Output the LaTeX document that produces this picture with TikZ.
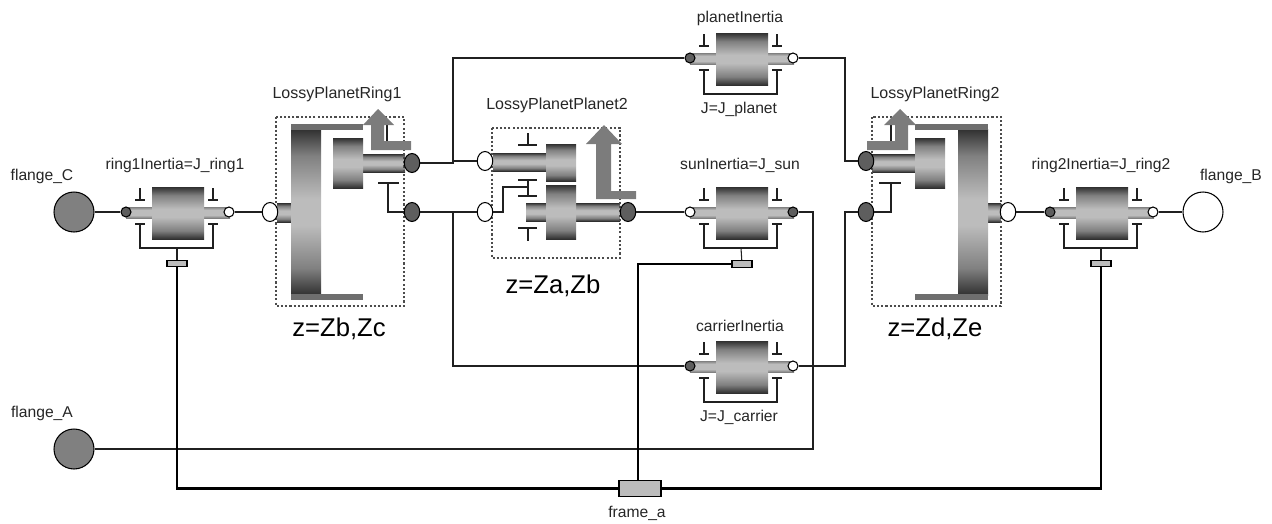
\documentclass[tikz,border=0pt]{standalone}
\usepackage{fontspec}
\setmainfont{Liberation Sans}
\usetikzlibrary{shapes.geometric}
\definecolor{wire}{HTML}{202020}
\definecolor{shadedark}{HTML}{303030}
\definecolor{shademid}{HTML}{808080}
\definecolor{shadelight}{HTML}{BCBCBC}
\definecolor{platecol}{HTML}{6E6E6E}
\definecolor{arrowcol}{HTML}{7C7C7C}
\definecolor{portdark}{HTML}{5E5E5E}
\definecolor{flangecol}{HTML}{808080}
\pgfdeclareverticalshading{gearfade}{100bp}{color(0bp)=(shadedark); color(25bp)=(shadedark); color(33bp)=(shademid); color(46bp)=(shadelight); color(54bp)=(shadelight); color(67bp)=(shademid); color(75bp)=(shadedark); color(100bp)=(shadedark)}
\pgfdeclareverticalshading{shaftfade}{100bp}{color(0bp)=(shadedark); color(25bp)=(shadedark); color(33bp)=(shademid); color(45bp)=(shadelight); color(55bp)=(shadelight); color(67bp)=(shademid); color(75bp)=(shadedark); color(100bp)=(shadedark)}
\pgfdeclareverticalshading{thinfade}{100bp}{color(0bp)=(shademid); color(25bp)=(shademid); color(38bp)=(shadelight); color(62bp)=(shadelight); color(75bp)=(shademid); color(100bp)=(shademid)}
\tikzset{
    conn/.style={draw=wire,line width=0.6pt},
    frameconn/.style={draw=black,line width=1.5pt},
    gear/.style={shade,shading=gearfade},
    shaft/.style={shade,shading=shaftfade},
    thinshaft/.style={shade,shading=thinfade},
    port/.style={circle,draw=black,line width=0.6pt,minimum size=0.2cm,inner sep=0pt},
    bigport/.style={ellipse,draw=black,line width=0.6pt,minimum width=0.31cm,minimum height=0.38cm,inner sep=0pt},
    flange/.style={circle,draw=black,line width=0.6pt,minimum size=0.8cm,inner sep=0pt},
    support/.style={rectangle,draw=black,line width=0.7pt,fill=shadelight,minimum width=0.4cm,minimum height=0.13cm,inner sep=0pt},
    lbl/.style={font=\fontsize{8.9}{10}\selectfont,inner sep=0pt,text=black!85},
    biglbl/.style={font=\fontsize{9.1}{10}\selectfont,inner sep=0pt,text=black!85},
    zlbl/.style={font=\fontsize{14.6}{16}\selectfont,inner sep=0pt},
    gearbox/.style={draw=black!70,line width=1.2pt,dash pattern=on 1.2pt off 1.2pt},
    plate/.style={fill=platecol},
    power/.style={fill=arrowcol}
}
\begin{document}
\begin{tikzpicture}[x=0.02cm,y=-0.02cm,line join=miter]
    \useasboundingbox (0,0) rectangle (1272,524);
    % inertias
    \foreach \name/\cx/\cy/\lcol/\rcol in {ringOne/178/213/portdark/white,planet/742/59/portdark/white,sun/742/213/white/portdark,carrier/742/367/portdark/white,ringTwo/1102/213/portdark/white}{
        \begin{scope}[shift={(\cx,\cy)}]
            \path[thinshaft] (-52,-6) rectangle (52,5);
            \path[gear] (-26,-26) rectangle (26,26);
            \draw[conn] (-38,-25) -- (-38,-13) (-43,-13) -- (-33,-13);
            \draw[conn] (35,-25) -- (35,-13) (30,-13) -- (40,-13);
            \draw[conn] (-43,11) -- (-33,11) (30,11) -- (40,11);
            \draw[conn] (-38,11) -- (-38,35) -- (35,35) -- (35,11);
            \node[port,fill=\lcol] (\name L) at (-52,-1) {};
            \node[port,fill=\rcol] (\name R) at (51,-1) {};
            \coordinate (\name Rail) at (-1,35);
        \end{scope}
    }
    % supports
    \node[support] (ringOneSup) at (177,263.5) {};
    \node[support] (sunSup) at (742,264) {};
    \node[support] (ringTwoSup) at (1101,263.5) {};
    \draw[conn] (ringOneRail) -- (ringOneSup);
    \draw[conn] (sunRail) -- (sunSup);
    \draw[conn] (ringTwoRail) -- (ringTwoSup);
    % LossyPlanetRing1
    \path[shaft] (277,203) rectangle (291,222);
    \path[shaft] (363,154) rectangle (405,172);
    \path[gear] (333,138) rectangle (363,188);
    \path[gear] (291,129) rectangle (321,295);
    \fill[plate] (291,124) rectangle (363,130);
    \fill[plate] (291,294) rectangle (363,300);
    \draw[gearbox] (276,117) rectangle (404,306);
    \draw[conn] (387,125) -- (387,141);
    \fill[power] (378,109) -- (394,125) -- (384,125) -- (384,141) -- (411,141) -- (411,150) -- (371,150) -- (371,125) -- (363,125) -- cycle;
    \draw[conn] (378,183) -- (399,183);
    \node[bigport,fill=white] (ringOneIn) at (270,212) {};
    \node[bigport,fill=portdark] (ringOneUp) at (412,163) {};
    \node[bigport,fill=portdark] (ringOneLow) at (412,212) {};
    \draw[conn] (388,183) |- (ringOneLow);
    % LossyPlanetPlanet2
    \path[shaft] (493,153) rectangle (546,171);
    \path[shaft] (526,203) rectangle (620,221);
    \path[gear] (546,144) rectangle (576,181);
    \path[gear] (546,185) rectangle (576,239);
    \draw[gearbox] (492,128) rectangle (620,258);
    \fill[power] (604,125) -- (622,144) -- (611,144) -- (611,191) -- (636,191) -- (636,199) -- (596,199) -- (596,144) -- (586,144) -- cycle;
    \draw[conn] (528,133) -- (528,145) (518,145) -- (537,145);
    \draw[conn] (518,180) -- (537,180) (528,180) -- (528,196) (518,196) -- (537,196);
    \draw[conn] (518,228) -- (537,228) (528,228) -- (528,241);
    \node[bigport,fill=white] (planetTwoUp) at (485,161) {};
    \node[bigport,fill=white] (planetTwoLow) at (485,212) {};
    \node[bigport,fill=portdark] (planetTwoOut) at (628,212) {};
    \coordinate (planetTwoBrg) at (528,187);
    \coordinate (planetTwoBend) at (503,212);
    \draw[conn] (planetTwoLow) -- (planetTwoBend) |- (planetTwoBrg);
    % LossyPlanetRing2
    \path[shaft] (988,203) rectangle (1001,222);
    \path[shaft] (872,154) rectangle (915,172);
    \path[gear] (915,138) rectangle (945,188);
    \path[gear] (958,129) rectangle (988,295);
    \fill[plate] (915,124) rectangle (988,130);
    \fill[plate] (915,294) rectangle (988,300);
    \draw[gearbox] (872,117) rectangle (1001,306);
    \draw[conn] (891,125) -- (891,141);
    \fill[power] (900,109) -- (916,125) -- (908,125) -- (908,150) -- (867,150) -- (867,141) -- (895,141) -- (895,125) -- (884,125) -- cycle;
    \draw[conn] (879,183) -- (901,183);
    \node[bigport,fill=portdark] (ringTwoUp) at (866,161) {};
    \node[bigport,fill=portdark] (ringTwoLow) at (866,212) {};
    \node[bigport,fill=white] (ringTwoOut) at (1008,212) {};
    \draw[conn] (891,183) |- (ringTwoLow);
    % flanges and frame
    \node[flange,fill=flangecol] (flangeC) at (74,212) {};
    \node[flange,fill=white] (flangeB) at (1203,212) {};
    \node[flange,fill=flangecol] (flangeA) at (74,449) {};
    \node[rectangle,draw=black,line width=0.8pt,fill=shadelight,minimum width=0.84cm,minimum height=0.31cm,inner sep=0pt] (frameA) at (640,488.5) {};
    % connections
    \coordinate (sideL) at (453,212);
    \coordinate (upL) at (453,161);
    \coordinate (sideR) at (845,212);
    \coordinate (upR) at (845,161);
    \coordinate (sunCol) at (813,449);
    \coordinate (frameCol) at (638,264);
    \coordinate (frameTop) at (638,481);
    \draw[conn] (flangeC) -- (ringOneL);
    \draw[conn] (ringOneR) -- (ringOneIn);
    \draw[conn] (ringOneUp) -- (upL |- ringOneUp) -- (upL);
    \draw[conn] (upL) -- (planetTwoUp);
    \draw[conn] (upL) |- (planetL);
    \draw[conn] (ringOneLow) -- (planetTwoLow);
    \draw[conn] (sideL) |- (carrierL);
    \draw[conn] (planetTwoOut) -- (sunL);
    \draw[conn] (planetR) -| (upR) -- (ringTwoUp);
    \draw[conn] (carrierR) -| (sideR) -- (ringTwoLow);
    \draw[conn] (sunR) -| (sunCol) -- (flangeA);
    \draw[conn] (ringTwoOut) -- (ringTwoL);
    \draw[conn] (ringTwoR) -- (flangeB);
    \draw[frameconn] (sunSup) -- (frameCol) -- (frameTop);
    \draw[frameconn] (frameA) -| (ringOneSup);
    \draw[frameconn] (frameA) -| (ringTwoSup);
    % labels
    \node[lbl] (labC) at (42,176) {flange\_C};
    \node[lbl] (labA) at (42,413) {flange\_A};
    \node[lbl] (labB) at (1231,176) {flange\_B};
    \node[lbl] (labRingOne) at (175,165) {ring1Inertia=J\_ring1};
    \node[lbl] (labRingTwo) at (1101,165) {ring2Inertia=J\_ring2};
    \node[biglbl] (labLossyOne) at (337,94) {LossyPlanetRing1};
    \node[biglbl] (labLossyTwo) at (935,94) {LossyPlanetRing2};
    \node[biglbl] (labLossyPlanet) at (557,105) {LossyPlanetPlanet2};
    \node[lbl] (labPlanet) at (740,18) {planetInertia};
    \node[lbl] (labJplanet) at (739,109) {J=J\_planet};
    \node[lbl] (labSun) at (740,165) {sunInertia=J\_sun};
    \node[lbl] (labCarrier) at (740,326) {carrierInertia};
    \node[lbl] (labJcarrier) at (739,417) {J=J\_carrier};
    \node[lbl] (labFrame) at (637,513) {frame\_a};
    \node[zlbl] (labZbc) at (339,329) {z=Zb,Zc};
    \node[zlbl] (labZab) at (553,286) {z=Za,Zb};
    \node[zlbl] (labZde) at (935,329) {z=Zd,Ze};
\end{tikzpicture}
\end{document}
